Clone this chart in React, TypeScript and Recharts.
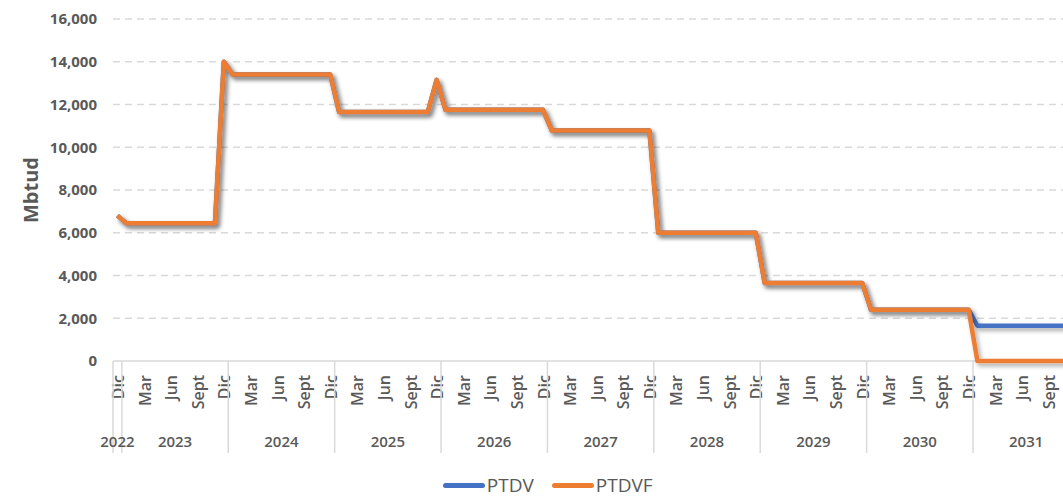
import { LineChart, Line, XAxis, YAxis, CartesianGrid, Legend } from 'recharts';

// Monthly volumes, Dic 2022 through Dic 2031 (Mbtud)
const years = ['2022', '2023', '2024', '2025', '2026', '2027', '2028', '2029', '2030', '2031'];
const monthNames = ['Ene', 'Feb', 'Mar', 'Abr', 'May', 'Jun', 'Jul', 'Ago', 'Sept', 'Oct', 'Nov', 'Dic'];
const shownMonths = ['Dic', 'Mar', 'Jun', 'Sept'];

const ptdvf = [
    6800,
    6450, 6450, 6450, 6450, 6450, 6450, 6450, 6450, 6450, 6450, 6450, 14000,
    13400, 13400, 13400, 13400, 13400, 13400, 13400, 13400, 13400, 13400, 13400, 13400,
    11650, 11650, 11650, 11650, 11650, 11650, 11650, 11650, 11650, 11650, 11650, 13150,
    11750, 11750, 11750, 11750, 11750, 11750, 11750, 11750, 11750, 11750, 11750, 11750,
    10780, 10780, 10780, 10780, 10780, 10780, 10780, 10780, 10780, 10780, 10780, 10780,
    6000, 6000, 6000, 6000, 6000, 6000, 6000, 6000, 6000, 6000, 6000, 6000,
    3650, 3650, 3650, 3650, 3650, 3650, 3650, 3650, 3650, 3650, 3650, 3650,
    2400, 2400, 2400, 2400, 2400, 2400, 2400, 2400, 2400, 2400, 2400, 2400,
    0, 0, 0, 0, 0, 0, 0, 0, 0, 0, 0, 0,
];

const ptdv = [
    6800,
    6450, 6450, 6450, 6450, 6450, 6450, 6450, 6450, 6450, 6450, 6450, 14000,
    13400, 13400, 13400, 13400, 13400, 13400, 13400, 13400, 13400, 13400, 13400, 13400,
    11650, 11650, 11650, 11650, 11650, 11650, 11650, 11650, 11650, 11650, 11650, 13150,
    11750, 11750, 11750, 11750, 11750, 11750, 11750, 11750, 11750, 11750, 11750, 11750,
    10780, 10780, 10780, 10780, 10780, 10780, 10780, 10780, 10780, 10780, 10780, 10780,
    6000, 6000, 6000, 6000, 6000, 6000, 6000, 6000, 6000, 6000, 6000, 6000,
    3650, 3650, 3650, 3650, 3650, 3650, 3650, 3650, 3650, 3650, 3650, 3650,
    2400, 2400, 2400, 2400, 2400, 2400, 2400, 2400, 2400, 2400, 2400, 2400,
    1650, 1650, 1650, 1650, 1650, 1650, 1650, 1650, 1650, 1650, 1650, 1650,
];

const yTicks = [0, 2000, 4000, 6000, 8000, 10000, 12000, 14000, 16000];

// categories: only Dic for 2022, full years after
const periods: { year: string; month: string }[] = [{ year: years[0], month: 'Dic' }];
years.slice(1).forEach((y) => monthNames.forEach((m) => periods.push({ year: y, month: m })));

const data = periods.map((p, i) => ({
    idx: i,
    year: p.year,
    month: p.month,
    PTDV: ptdv[i],
    PTDVF: ptdvf[i],
}));

const CHART_W = 1090;
const CHART_H = 497;
const TOP = 19;
const Y_AXIS_W = 113;
const RIGHT = 10.6;
const X_AXIS_H = 112;
const LEGEND_H = 24;
const PLOT_BOTTOM = CHART_H - X_AXIS_H - LEGEND_H;
const BAND = (CHART_W - Y_AXIS_W - RIGHT) / data.length;
const TEXT = '#595959';
const LINE_GRAY = '#D9D9D9';

// dashed grid, solid baseline (drawn under the series)
const GridLine = (p: any) => {
    const isBase = Math.abs(p.y1 - PLOT_BOTTOM) < 1;
    return (
        <line
            key={p.key}
            x1={p.x1}
            x2={p.x2}
            y1={p.y1}
            y2={p.y2}
            stroke={LINE_GRAY}
            strokeWidth={1.5}
            strokeDasharray={isBase ? undefined : '7 5'}
        />
    );
};

const MonthTick = (props: any) => {
    const { x, y, payload } = props;
    const i = payload.value;
    const d = data[i];
    if (!d || x == null) return null;
    const half = BAND / 2;
    const yearCount = data.filter((p) => p.year === d.year).length;
    const firstOfYear = i === 0 || d.month === 'Ene';

    return (
        <g>
            {shownMonths.includes(d.month) && (
                <text
                    transform={`translate(${x + 0.5},${y + 14}) rotate(-90)`}
                    textAnchor="end"
                    dominantBaseline="central"
                    fill={TEXT}
                    fontSize={16}
                    fontWeight={600}
                >
                    {d.month}
                </text>
            )}
            {i === 0 && <line x1={x - half} x2={x - half} y1={y} y2={y + 92} stroke={LINE_GRAY} strokeWidth={1.5} />}
            {d.month === 'Dic' && <line x1={x + half} x2={x + half} y1={y} y2={y + 92} stroke={LINE_GRAY} strokeWidth={1.5} />}
            {firstOfYear && (
                <text x={x + (yearCount - 1) * half} y={y + 86} textAnchor="middle" fill={TEXT} fontSize={15} fontWeight={600}>
                    {d.year}
                </text>
            )}
        </g>
    );
};

const renderLegend = (props: any) => (
    <div style={{ display: 'flex', justifyContent: 'center', alignItems: 'center', height: LEGEND_H, paddingLeft: 34 }}>
        {(props.payload || []).map((item: any) => (
            <div key={item.value} style={{ display: 'flex', alignItems: 'center', marginRight: 18 }}>
                <span style={{ display: 'inline-block', width: 42, height: 5, borderRadius: 3, background: item.color, marginRight: 2 }} />
                <span style={{ fontSize: 19, color: TEXT }}>{item.value}</span>
            </div>
        ))}
    </div>
);

export default function App() {
    return (
        <div
            style={{
                position: 'fixed',
                left: 0,
                top: 0,
                width: 1063,
                height: 497,
                overflow: 'hidden',
                background: '#fff',
                fontFamily: '"Open Sans", sans-serif',
            }}
        >
            <style>{`.line-shadow path { filter: url(#lineShadow); }`}</style>
            <svg width={0} height={0} style={{ position: 'absolute' }}>
                <defs>
                    <filter id="lineShadow" filterUnits="userSpaceOnUse" x={0} y={0} width={1100} height={500}>
                        <feDropShadow dx={2.5} dy={3} stdDeviation={2} floodColor="#000" floodOpacity={0.32} />
                    </filter>
                </defs>
            </svg>
            <LineChart width={CHART_W} height={CHART_H} data={data} margin={{ top: TOP, right: RIGHT, bottom: 0, left: 0 }}>
                <CartesianGrid vertical={false} horizontal={GridLine} />
                <XAxis
                    dataKey="idx"
                    type="number"
                    domain={[-0.5, data.length - 0.5]}
                    ticks={data.map((d) => d.idx)}
                    interval={0}
                    height={X_AXIS_H}
                    tickSize={0}
                    tickMargin={0}
                    tickLine={false}
                    axisLine={false}
                    tick={<MonthTick />}
                />
                <YAxis
                    width={Y_AXIS_W}
                    domain={[0, 16000]}
                    ticks={yTicks}
                    axisLine={false}
                    tickLine={false}
                    tickSize={0}
                    tickMargin={16}
                    tickFormatter={(v) => v.toLocaleString('en-US')}
                    tick={{ fill: TEXT, fontSize: 15, fontWeight: 700 }}
                    label={{
                        value: 'Mbtud',
                        content: (p: any) => {
                            const vb = p.viewBox || { x: 0, y: TOP, width: Y_AXIS_W, height: PLOT_BOTTOM - TOP };
                            const cx = vb.x + 30;
                            const cy = vb.y + vb.height / 2;
                            return (
                                <text
                                    transform={`translate(${cx},${cy}) rotate(-90)`}
                                    textAnchor="middle"
                                    dominantBaseline="central"
                                    fill={TEXT}
                                    fontSize={20}
                                    fontWeight={700}
                                >
                                    Mbtud
                                </text>
                            );
                        },
                    }}
                />
                <Line
                    className="line-shadow"
                    type="linear"
                    dataKey="PTDV"
                    stroke="#4472C4"
                    strokeWidth={4.5}
                    strokeLinejoin="round"
                    dot={false}
                    activeDot={false}
                    isAnimationActive={false}
                />
                <Line
                    className="line-shadow"
                    type="linear"
                    dataKey="PTDVF"
                    stroke="#ED7D31"
                    strokeWidth={4.5}
                    strokeLinejoin="round"
                    dot={false}
                    activeDot={false}
                    isAnimationActive={false}
                />
                <Legend verticalAlign="bottom" height={LEGEND_H} content={renderLegend} />
            </LineChart>
        </div>
    );
}
